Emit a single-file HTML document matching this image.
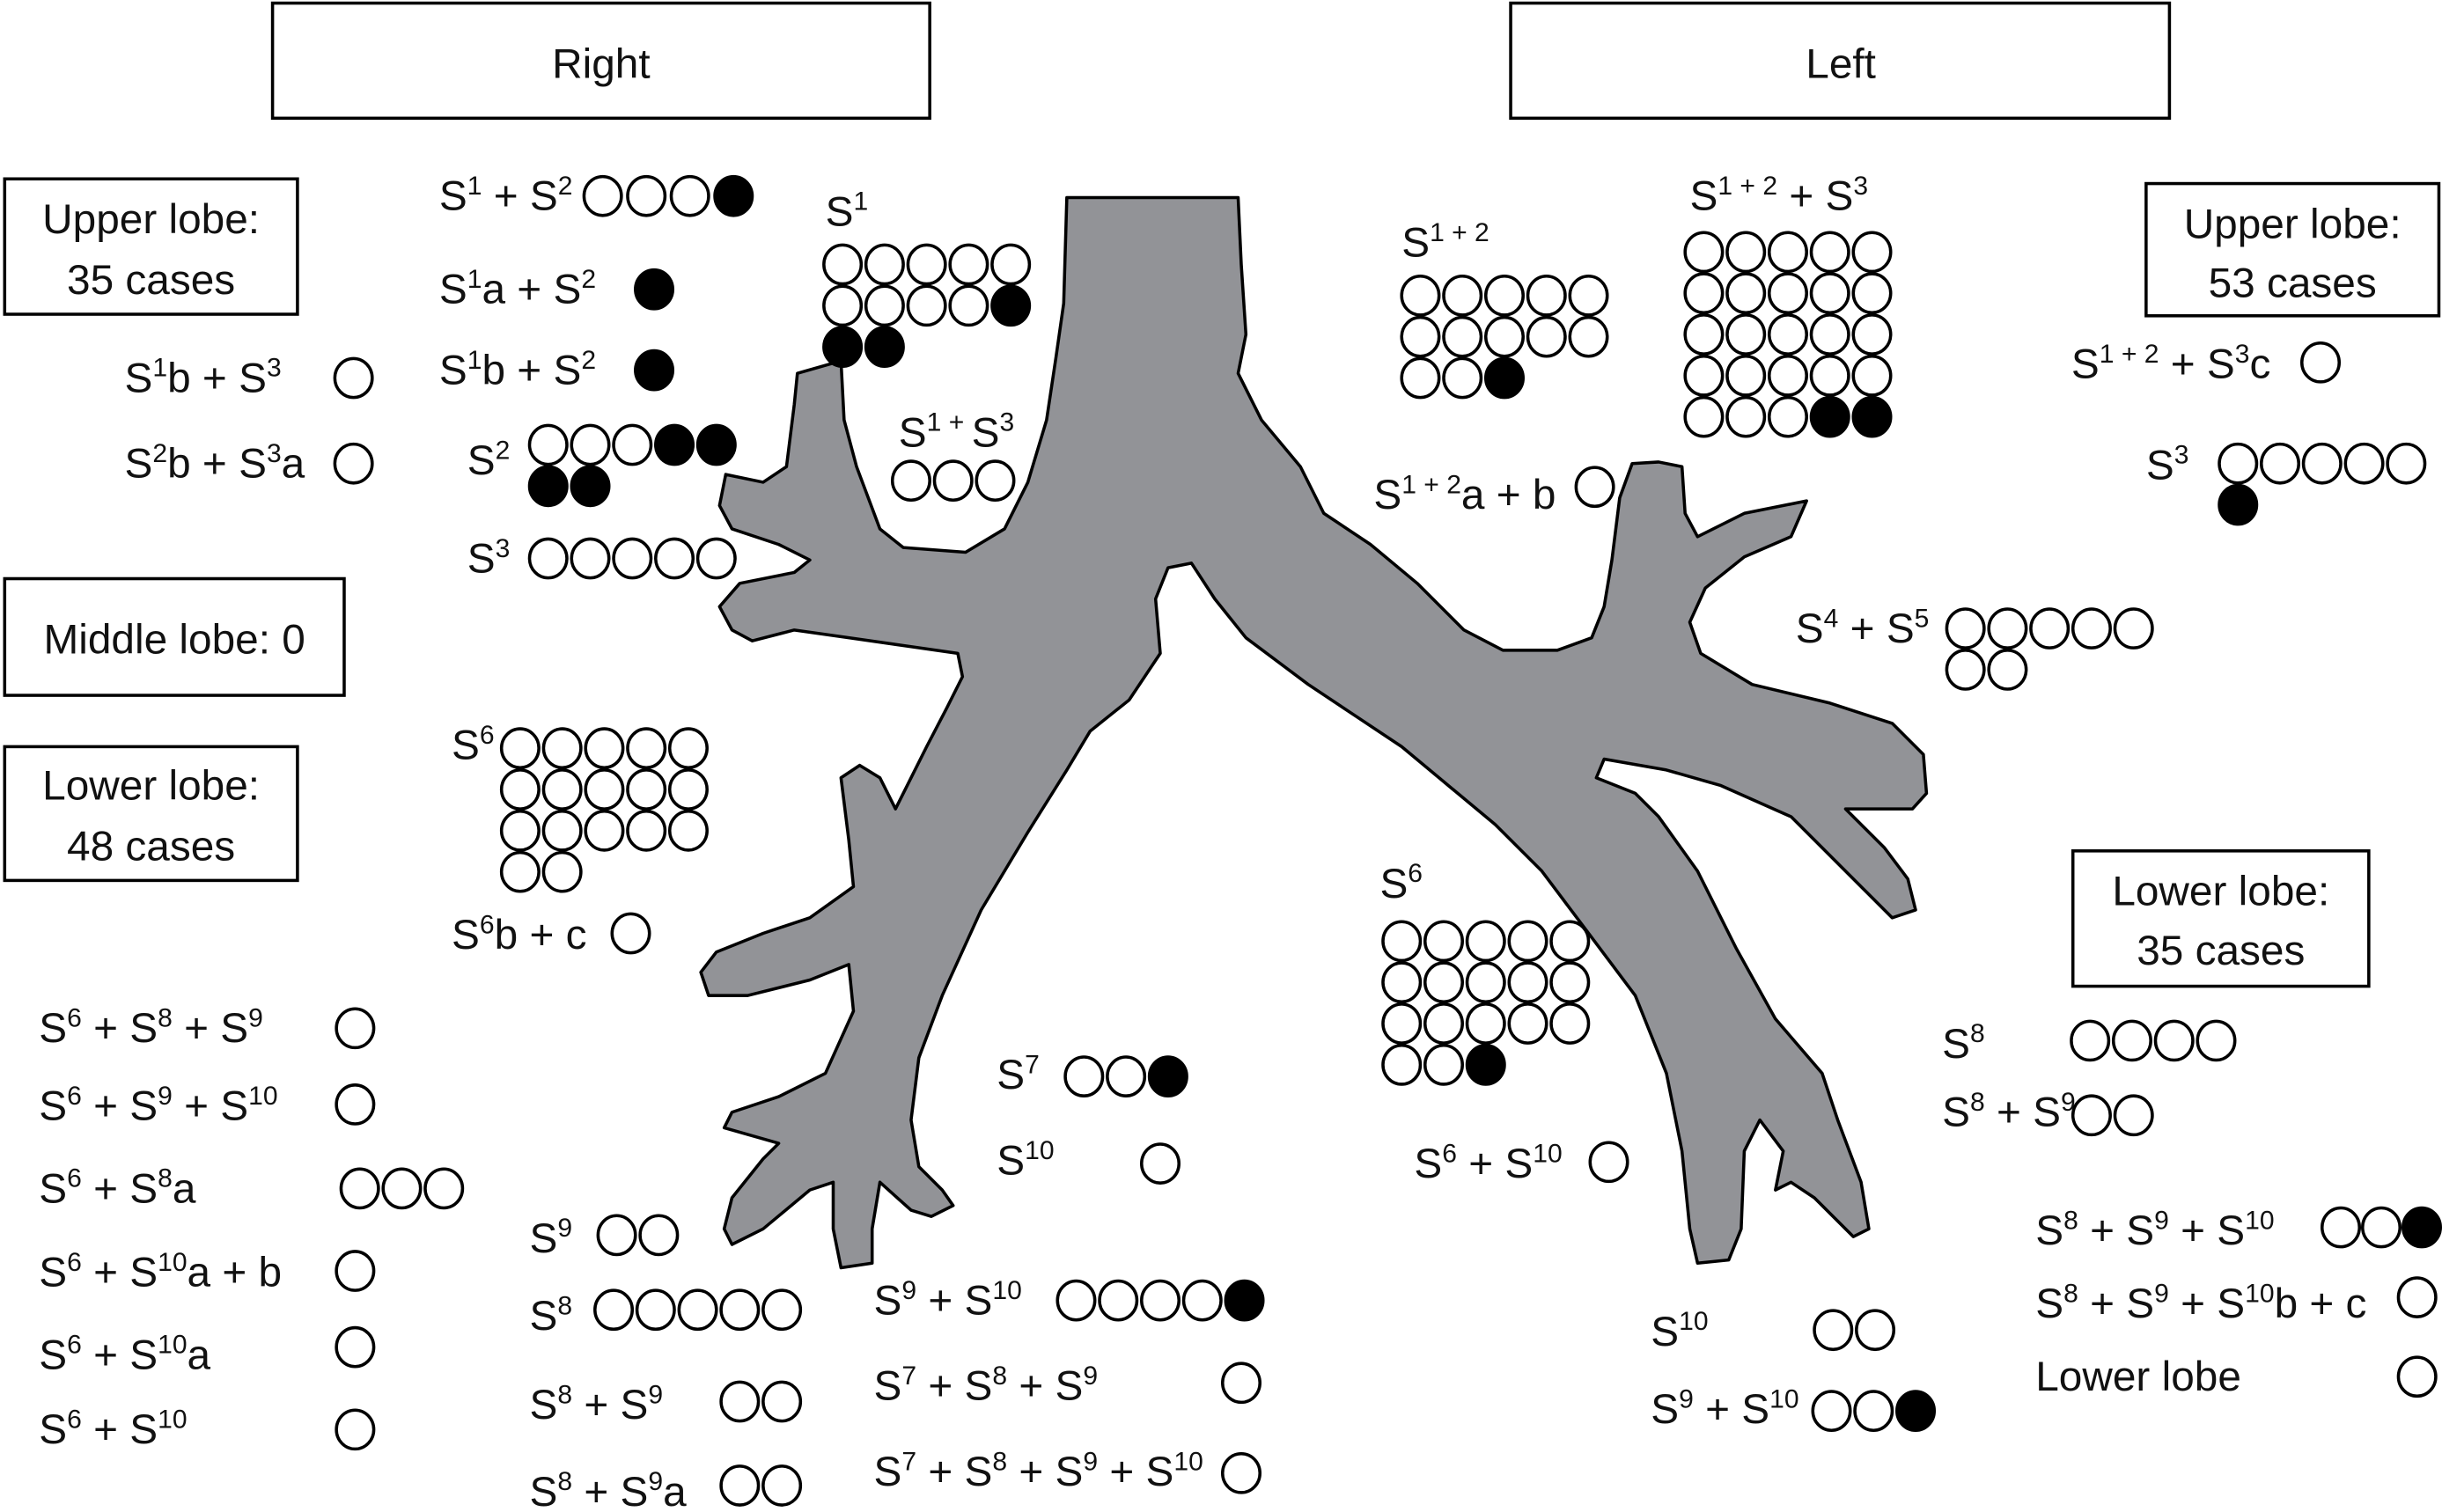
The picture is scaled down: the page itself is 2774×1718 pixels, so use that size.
<!DOCTYPE html>
<html><head><meta charset="utf-8">
<style>
html,body{margin:0;padding:0;background:#fff;}
svg{display:block;}
text{font-family:"Liberation Sans",sans-serif;font-size:27px;fill:#111;}
.s{font-size:17px;}
</style></head>
<body>
<svg id="g" width="2774" height="1718" viewBox="0 0 1568 972" preserveAspectRatio="none" xmlns="http://www.w3.org/2000/svg">
<rect x="0" y="0" width="1568" height="972" fill="#fff"/>
<path fill="#929397" stroke="#000" stroke-width="2" stroke-linejoin="round" d="M685,127 L795,127 L797,170 L800,215 L795,240 L810,270 L835,300 L850,330 L880,350 L910,375 L940,405 L965,418 L1000,418 L1022,410 L1030,390 L1035,360 L1040,320 L1048,298 L1065,297 L1080,300 L1082,330 L1090,345 L1120,330 L1160,322 L1150,345 L1120,358 L1095,378 L1085,400 L1092,420 L1125,440 L1175,452 L1215,465 L1235,485 L1237,510 L1228,520 L1185,520 L1210,545 L1225,565 L1230,585 L1215,590 L1195,570 L1170,545 L1150,525 L1105,505 L1070,495 L1030,488 L1025,500 L1050,510 L1065,525 L1090,560 L1115,610 L1140,655 L1170,690 L1180,720 L1195,760 L1200,790 L1190,795 L1165,770 L1150,760 L1140,765 L1145,740 L1130,720 L1120,740 L1118,790 L1110,810 L1090,812 L1085,790 L1080,740 L1070,690 L1050,640 L1020,600 L990,560 L960,530 L930,505 L900,480 L870,460 L840,440 L800,410 L780,385 L765,362 L750,365 L742,385 L745,420 L725,450 L700,470 L685,495 L660,535 L630,585 L605,640 L590,680 L585,720 L590,750 L605,765 L612,775 L598,782 L585,778 L565,760 L560,790 L560,812 L540,815 L535,790 L535,760 L520,765 L490,790 L470,800 L465,790 L470,770 L490,745 L500,735 L465,725 L470,715 L500,705 L530,690 L548,650 L545,620 L520,630 L480,640 L455,640 L450,625 L460,612 L490,600 L520,590 L548,570 L545,540 L540,500 L552,492 L565,500 L575,520 L595,480 L608,455 L618,435 L615,420 L580,415 L545,410 L510,405 L483,412 L470,405 L462,390 L475,375 L510,368 L520,360 L500,350 L470,340 L462,325 L466,305 L490,310 L505,300 L510,260 L512,240 L540,232 L542,270 L550,300 L565,340 L580,352 L620,355 L645,340 L660,310 L672,270 L678,230 L683,195 Z"/>
<g fill="none" stroke="#000" stroke-width="2">
<rect x="175" y="2" width="422" height="74"/>
<rect x="970" y="2" width="423" height="74"/>
<rect x="3" y="115" width="188" height="87"/>
<rect x="3" y="372" width="218" height="75"/>
<rect x="3" y="480" width="188" height="86"/>
<rect x="1378" y="118" width="188" height="85"/>
<rect x="1331" y="547" width="190" height="87"/>
</g>
<g text-anchor="middle">
<text x="386" y="50">Right</text>
<text x="1182" y="50">Left</text>
<text x="97" y="150">Upper lobe:</text><text x="97" y="189">35 cases</text>
<text x="112" y="420">Middle lobe: 0</text>
<text x="97" y="514">Lower lobe:</text><text x="97" y="553">48 cases</text>
<text x="1472" y="153">Upper lobe:</text><text x="1472" y="191">53 cases</text>
<text x="1426" y="582">Lower lobe:</text><text x="1426" y="620">35 cases</text>
</g>
<g>
<text x="282" y="135">S<tspan class="s" dy="-10">1</tspan><tspan dy="10"> + S</tspan><tspan class="s" dy="-10">2</tspan></text>
<text x="282" y="195">S<tspan class="s" dy="-10">1</tspan><tspan dy="10">a + S</tspan><tspan class="s" dy="-10">2</tspan></text>
<text x="282" y="247">S<tspan class="s" dy="-10">1</tspan><tspan dy="10">b + S</tspan><tspan class="s" dy="-10">2</tspan></text>
<text x="300" y="305">S<tspan class="s" dy="-10">2</tspan></text>
<text x="300" y="368">S<tspan class="s" dy="-10">3</tspan></text>
<text x="530" y="145">S<tspan class="s" dy="-10">1</tspan></text>
<text x="577" y="287">S<tspan class="s" dy="-10">1 + </tspan><tspan dy="10">S</tspan><tspan class="s" dy="-10">3</tspan></text>
<text x="80" y="252">S<tspan class="s" dy="-10">1</tspan><tspan dy="10">b + S</tspan><tspan class="s" dy="-10">3</tspan></text>
<text x="80" y="307">S<tspan class="s" dy="-10">2</tspan><tspan dy="10">b + S</tspan><tspan class="s" dy="-10">3</tspan><tspan dy="10">a</tspan></text>
<text x="290" y="488">S<tspan class="s" dy="-10">6</tspan></text>
<text x="290" y="610">S<tspan class="s" dy="-10">6</tspan><tspan dy="10">b + c</tspan></text>
<text x="25" y="670">S<tspan class="s" dy="-10">6</tspan><tspan dy="10"> + S</tspan><tspan class="s" dy="-10">8</tspan><tspan dy="10"> + S</tspan><tspan class="s" dy="-10">9</tspan></text>
<text x="25" y="720">S<tspan class="s" dy="-10">6</tspan><tspan dy="10"> + S</tspan><tspan class="s" dy="-10">9</tspan><tspan dy="10"> + S</tspan><tspan class="s" dy="-10">10</tspan></text>
<text x="25" y="773">S<tspan class="s" dy="-10">6</tspan><tspan dy="10"> + S</tspan><tspan class="s" dy="-10">8</tspan><tspan dy="10">a</tspan></text>
<text x="25" y="827">S<tspan class="s" dy="-10">6</tspan><tspan dy="10"> + S</tspan><tspan class="s" dy="-10">10</tspan><tspan dy="10">a + b</tspan></text>
<text x="25" y="880">S<tspan class="s" dy="-10">6</tspan><tspan dy="10"> + S</tspan><tspan class="s" dy="-10">10</tspan><tspan dy="10">a</tspan></text>
<text x="25" y="928">S<tspan class="s" dy="-10">6</tspan><tspan dy="10"> + S</tspan><tspan class="s" dy="-10">10</tspan></text>
<text x="340" y="805">S<tspan class="s" dy="-10">9</tspan></text>
<text x="340" y="855">S<tspan class="s" dy="-10">8</tspan></text>
<text x="340" y="912">S<tspan class="s" dy="-10">8</tspan><tspan dy="10"> + S</tspan><tspan class="s" dy="-10">9</tspan></text>
<text x="340" y="968">S<tspan class="s" dy="-10">8</tspan><tspan dy="10"> + S</tspan><tspan class="s" dy="-10">9</tspan><tspan dy="10">a</tspan></text>
<text x="640" y="700">S<tspan class="s" dy="-10">7</tspan></text>
<text x="640" y="755">S<tspan class="s" dy="-10">10</tspan></text>
<text x="561" y="845">S<tspan class="s" dy="-10">9</tspan><tspan dy="10"> + S</tspan><tspan class="s" dy="-10">10</tspan></text>
<text x="561" y="900">S<tspan class="s" dy="-10">7</tspan><tspan dy="10"> + S</tspan><tspan class="s" dy="-10">8</tspan><tspan dy="10"> + S</tspan><tspan class="s" dy="-10">9</tspan></text>
<text x="561" y="955">S<tspan class="s" dy="-10">7</tspan><tspan dy="10"> + S</tspan><tspan class="s" dy="-10">8</tspan><tspan dy="10"> + S</tspan><tspan class="s" dy="-10">9</tspan><tspan dy="10"> + S</tspan><tspan class="s" dy="-10">10</tspan></text>

<text x="900" y="165">S<tspan class="s" dy="-10">1 + 2</tspan></text>
<text x="1085" y="135">S<tspan class="s" dy="-10">1 + 2</tspan><tspan dy="10"> + S</tspan><tspan class="s" dy="-10">3</tspan></text>
<text x="882" y="327">S<tspan class="s" dy="-10">1 + 2</tspan><tspan dy="10">a + b</tspan></text>
<text x="1330" y="243">S<tspan class="s" dy="-10">1 + 2</tspan><tspan dy="10"> + S</tspan><tspan class="s" dy="-10">3</tspan><tspan dy="10">c</tspan></text>
<text x="1378" y="308">S<tspan class="s" dy="-10">3</tspan></text>
<text x="1153" y="413">S<tspan class="s" dy="-10">4</tspan><tspan dy="10"> + S</tspan><tspan class="s" dy="-10">5</tspan></text>
<text x="886" y="577">S<tspan class="s" dy="-10">6</tspan></text>
<text x="908" y="757">S<tspan class="s" dy="-10">6</tspan><tspan dy="10"> + S</tspan><tspan class="s" dy="-10">10</tspan></text>
<text x="1247" y="680">S<tspan class="s" dy="-10">8</tspan></text>
<text x="1247" y="724">S<tspan class="s" dy="-10">8</tspan><tspan dy="10"> + S</tspan><tspan class="s" dy="-10">9</tspan></text>
<text x="1307" y="800">S<tspan class="s" dy="-10">8</tspan><tspan dy="10"> + S</tspan><tspan class="s" dy="-10">9</tspan><tspan dy="10"> + S</tspan><tspan class="s" dy="-10">10</tspan></text>
<text x="1307" y="847">S<tspan class="s" dy="-10">8</tspan><tspan dy="10"> + S</tspan><tspan class="s" dy="-10">9</tspan><tspan dy="10"> + S</tspan><tspan class="s" dy="-10">10</tspan><tspan dy="10">b + c</tspan></text>
<text x="1307" y="894">Lower lobe</text>
<text x="1060" y="865">S<tspan class="s" dy="-10">10</tspan></text>
<text x="1060" y="915">S<tspan class="s" dy="-10">9</tspan><tspan dy="10"> + S</tspan><tspan class="s" dy="-10">10</tspan></text>
</g>
<g id="c" stroke="#000" stroke-width="2"></g>
</svg>
<script>
var G=[
// x,y,spacing,rows(array of strings o/f), rowStep
[387,126,28,["oooF"]],
[420,186,27,["F"]],[420,238,27,["F"]],
[352,286,27,["oooFF","FF"]],
[352,359,27,["ooooo"]],
[541,170,27,["ooooo","ooooF","FF"]],
[585,309,27,["ooo"]],
[227,243,27,["o"]],[227,298,27,["o"]],
[334,481,27,["ooooo","ooooo","ooooo","oo"]],
[405,600,27,["o"]],
[228,661,27,["o"]],[228,710,27,["o"]],[231,764,27,["ooo"]],[228,817,27,["o"]],[228,866,27,["o"]],[228,919,27,["o"]],
[396,794,27,["oo"]],[394,842,27,["ooooo"]],[475,901,27,["oo"]],[475,955,27,["oo"]],
[696,692,27,["ooF"]],[745,748,27,["o"]],
[691,836,27,["ooooF"]],[797,889,27,["o"]],[797,947,27,["o"]],
[912,190,27,["ooooo","ooooo","ooF"]],
[1094,162,27,["ooooo","ooooo","ooooo","ooooo","oooFF"]],
[1024,313,27,["o"]],[1490,233,27,["o"]],
[1437,298,27,["ooooo","F"]],
[1262,404,27,["ooooo","oo"]],
[900,605,27,["ooooo","ooooo","ooooo","ooF"]],
[1033,747,27,["o"]],
[1342,669,27,["oooo"]],[1343,717,27,["oo"]],
[1503,789,26,["ooF"]],[1552,834,27,["o"]],[1552,885,27,["o"]],
[1177,855,27,["oo"]],[1176,907,27,["ooF"]]
];
var c=document.getElementById('c'),ns="http://www.w3.org/2000/svg";
G.forEach(function(g){g[3].forEach(function(r,ri){for(var i=0;i<r.length;i++){var e=document.createElementNS(ns,'ellipse');e.setAttribute('cx',g[0]+i*g[2]);e.setAttribute('cy',g[1]+ri*26.5);e.setAttribute('rx',12);e.setAttribute('ry',12.5);e.setAttribute('fill',r[i]=='F'?'#000':'#fff');c.appendChild(e);}});});
</script>
</body></html>
